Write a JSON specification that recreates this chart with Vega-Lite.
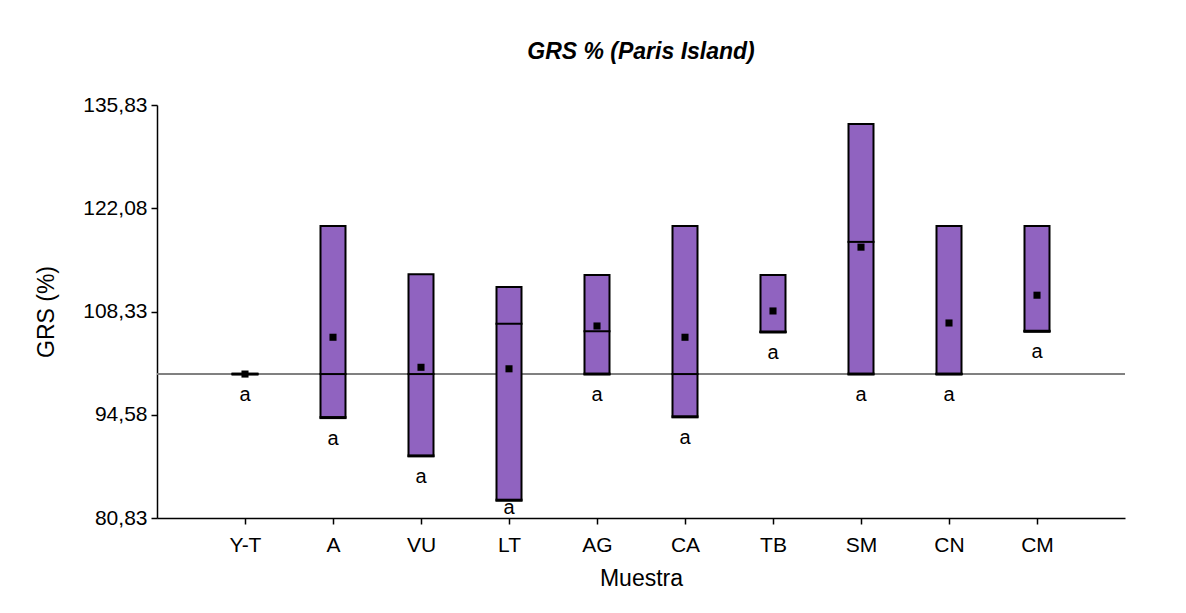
{
  "$schema": "https://vega.github.io/schema/vega-lite/v6.json",
  "autosize": {"type": "none"},
  "width": 968,
  "height": 413,
  "padding": {"left": 157, "top": 105, "right": 61, "bottom": 95},
  "background": "white",
  "title": {
    "text": "GRS % (Paris Island)",
    "font": "Liberation Sans",
    "fontSize": 23,
    "fontStyle": "italic",
    "fontWeight": "bold",
    "color": "black",
    "anchor": "middle",
    "frame": "group",
    "offset": 30
  },
  "data": {
    "values": [
      {"Muestra": "Y-T", "min": 100.0, "max": 100.0, "median": 100.0, "mean": 100.0, "letra": "a"},
      {"Muestra": "A", "min": 94.2, "max": 119.7, "median": 100.0, "mean": 104.9, "letra": "a"},
      {"Muestra": "VU", "min": 89.1, "max": 113.3, "median": 100.0, "mean": 100.9, "letra": "a"},
      {"Muestra": "LT", "min": 83.2, "max": 111.6, "median": 106.7, "mean": 100.7, "letra": "a"},
      {"Muestra": "AG", "min": 100.0, "max": 113.2, "median": 105.7, "mean": 106.4, "letra": "a"},
      {"Muestra": "CA", "min": 94.3, "max": 119.7, "median": 100.0, "mean": 104.9, "letra": "a"},
      {"Muestra": "TB", "min": 105.6, "max": 113.2, "median": 105.6, "mean": 108.4, "letra": "a"},
      {"Muestra": "SM", "min": 100.0, "max": 133.3, "median": 117.6, "mean": 116.9, "letra": "a"},
      {"Muestra": "CN", "min": 100.0, "max": 119.7, "median": 100.0, "mean": 106.8, "letra": "a"},
      {"Muestra": "CM", "min": 105.7, "max": 119.7, "median": 105.7, "mean": 110.5, "letra": "a"}
    ]
  },
  "encoding": {
    "x": {
      "field": "Muestra",
      "type": "nominal",
      "sort": null,
      "scale": {"type": "point", "padding": 1},
      "axis": {
        "title": "Muestra",
        "labelAngle": 0,
        "labelFont": "Liberation Sans",
        "labelFontSize": 21,
        "labelColor": "black",
        "labelPadding": 10,
        "titleFont": "Liberation Sans",
        "titleFontSize": 23,
        "titleFontWeight": "normal",
        "titleColor": "black",
        "titlePadding": 12,
        "domainColor": "black",
        "domainWidth": 1.5,
        "tickColor": "black",
        "tickWidth": 1.5,
        "tickSize": 6
      }
    }
  },
  "layer": [
    {
      "mark": {"type": "rule", "color": "#808080", "strokeWidth": 1},
      "encoding": {"x": null, "y": {"datum": 100}}
    },
    {
      "mark": {"type": "bar", "width": 25, "fill": "#9063C0", "stroke": "black", "strokeWidth": 2},
      "encoding": {
        "y": {
          "field": "min",
          "type": "quantitative",
          "scale": {"domain": [80.83, 135.83], "nice": false, "zero": false},
          "axis": {
            "title": "GRS (%)",
            "values": [80.83, 94.58, 108.33, 122.08, 135.83],
            "format": ".2f",
            "labelExpr": "replace(datum.label, '.', ',')",
            "grid": false,
            "labelFont": "Liberation Sans",
            "labelFontSize": 21,
            "labelColor": "black",
            "labelPadding": 4,
            "titleFont": "Liberation Sans",
            "titleFontSize": 23,
            "titleFontWeight": "normal",
            "titleColor": "black",
            "titlePadding": 24,
            "domainColor": "black",
            "domainWidth": 1.5,
            "tickColor": "black",
            "tickWidth": 1.5,
            "tickSize": 6
          }
        },
        "y2": {"field": "max"}
      }
    },
    {
      "mark": {"type": "tick", "color": "black", "size": 27, "thickness": 3, "opacity": 1},
      "encoding": {"y": {"field": "min", "type": "quantitative"}}
    },
    {
      "mark": {"type": "tick", "color": "black", "size": 27, "thickness": 2, "opacity": 1},
      "encoding": {"y": {"field": "median", "type": "quantitative"}}
    },
    {
      "mark": {"type": "point", "shape": "square", "filled": true, "color": "black", "size": 50, "opacity": 1},
      "encoding": {"y": {"field": "mean", "type": "quantitative"}}
    },
    {
      "transform": [{"filter": "datum.Muestra != 'LT'"}],
      "mark": {"type": "text", "font": "Liberation Sans", "fontSize": 20, "color": "black", "baseline": "middle", "dy": 21},
      "encoding": {"y": {"field": "min", "type": "quantitative"}, "text": {"field": "letra"}}
    },
    {
      "transform": [{"filter": "datum.Muestra == 'LT'"}],
      "mark": {"type": "text", "font": "Liberation Sans", "fontSize": 20, "color": "black", "baseline": "middle", "dy": 8},
      "encoding": {"y": {"field": "min", "type": "quantitative"}, "text": {"field": "letra"}}
    }
  ],
  "config": {"view": {"stroke": null}}
}
